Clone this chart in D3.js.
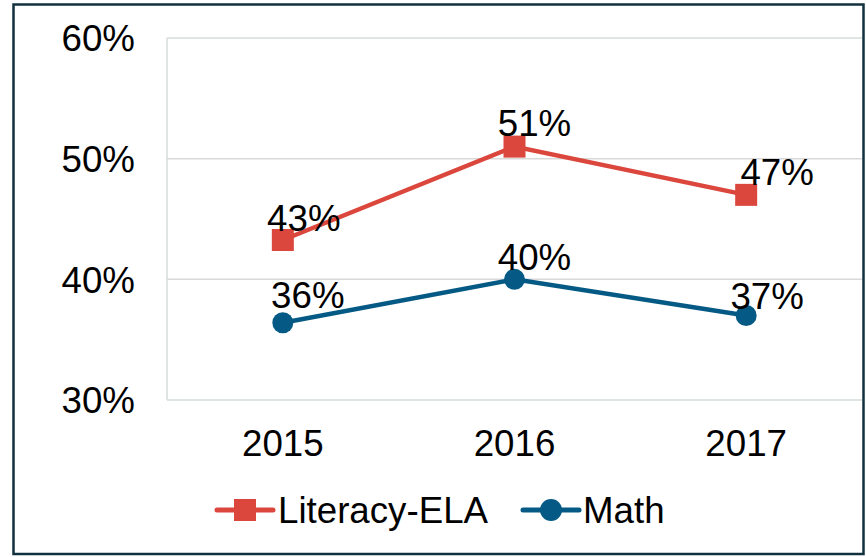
<!DOCTYPE html>
<html>
<head>
<meta charset="utf-8">
<script src="https://cdn.jsdelivr.net/npm/d3@7"></script>
<style>
  html, body { margin: 0; padding: 0; background: #fff; }
  svg { display: block; }
  text { font-family: "Liberation Sans", Arial, sans-serif; fill: #000; }
</style>
</head>
<body>
<svg id="chart" width="866" height="557"></svg>
<script>
const years = ["2015", "2016", "2017"];
const elaValues = [0.4326, 0.510, 0.470];
const mathValues = [0.364, 0.400, 0.370];
const yTicks = [0.30, 0.40, 0.50, 0.60];
const seriesNames = ["Literacy-ELA", "Math"];
// per-label nudges (px) to mimic the original label placement
const elaLabelNudge = [[0, 0], [-1, -2], [10, -1]];
const mathLabelNudge = [[4, -6], [-1, 0], [0, 2]];

const W = 866, H = 557;
const FS = 36.7;
const plot = { left: 167, right: 862, top: 38, bottom: 400 };
const svg = d3.select("#chart");

// outer frame
svg.append("rect").attr("x", 13.5).attr("y", 4.5).attr("width", 850).attr("height", 549.5)
  .attr("fill", "#fff").attr("stroke", "#12313f").attr("stroke-width", 2.5);

const x = d3.scaleBand().domain(years).range([plot.left, plot.right]);
const y = d3.scaleLinear().domain([0.30, 0.60]).range([plot.bottom, plot.top]);
const fmt = d3.format(".0%");

// gridlines
svg.append("g").selectAll("line").data(yTicks).join("line")
  .attr("x1", plot.left).attr("x2", plot.right)
  .attr("y1", d => y(d)).attr("y2", d => y(d))
  .attr("stroke", (d, i) => (i === 0 || i === yTicks.length - 1) ? "#d4ddd6" : "#d9d9d9")
  .attr("stroke-width", 1.5);
svg.append("line").attr("x1", plot.left).attr("x2", plot.left)
  .attr("y1", plot.top).attr("y2", plot.bottom)
  .attr("stroke", "#d4ddd6").attr("stroke-width", 1.5);

// y axis labels
const yAxis = d3.axisLeft(y).tickValues(yTicks).tickFormat(fmt).tickSize(0).tickPadding(32);
const gy = svg.append("g").attr("transform", `translate(${plot.left},0)`).call(yAxis);
gy.select(".domain").remove();
gy.selectAll("text").attr("font-size", FS).attr("font-family", "Liberation Sans, Arial, sans-serif")
  .attr("fill", "#000").attr("dy", "0.35em");

// x axis labels
const xAxis = d3.axisBottom(x).tickSize(0).tickPadding(30);
const gx = svg.append("g").attr("transform", `translate(0,${plot.bottom})`).call(xAxis);
gx.select(".domain").remove();
gx.selectAll("text").attr("font-size", FS).attr("font-family", "Liberation Sans, Arial, sans-serif")
  .attr("fill", "#000");

const cx = d => x(d) + x.bandwidth() / 2;
const series = [
  { name: seriesNames[0], values: elaValues, color: "#db473d", shape: "square", nudge: elaLabelNudge },
  { name: seriesNames[1], values: mathValues, color: "#045a84", shape: "circle", nudge: mathLabelNudge }
];

const line = d3.line().x((d, i) => cx(years[i])).y(d => y(d));

series.forEach(s => {
  const g = svg.append("g");
  g.append("path").datum(s.values).attr("d", line)
    .attr("fill", "none").attr("stroke", s.color).attr("stroke-width", 4.5);
  if (s.shape === "square") {
    g.selectAll("rect").data(s.values).join("rect")
      .attr("x", (d, i) => cx(years[i]) - 11).attr("y", d => y(d) - 11)
      .attr("width", 22).attr("height", 22).attr("fill", s.color);
  } else {
    g.selectAll("circle").data(s.values).join("circle")
      .attr("cx", (d, i) => cx(years[i])).attr("cy", d => y(d)).attr("r", 10.5)
      .attr("fill", s.color);
  }
  g.selectAll("text").data(s.values).join("text")
    .attr("x", (d, i) => cx(years[i]) + 21 + s.nudge[i][0])
    .attr("y", (d, i) => y(d) - 9 + s.nudge[i][1])
    .attr("text-anchor", "middle").attr("font-size", FS)
    .text(d => fmt(d));
});

// legend
const legend = svg.append("g");
const legendItems = [
  { x: 217, textX: 278 },
  { x: 523, textX: 583 }
];
series.forEach((s, i) => {
  const lx = legendItems[i].x, ly = 510;
  legend.append("line").attr("x1", lx).attr("x2", lx + 56).attr("y1", ly).attr("y2", ly)
    .attr("stroke", s.color).attr("stroke-width", 5).attr("stroke-linecap", "round");
  if (s.shape === "square") {
    legend.append("rect").attr("x", lx + 28 - 11).attr("y", ly - 11).attr("width", 22).attr("height", 22)
      .attr("fill", s.color);
  } else {
    legend.append("circle").attr("cx", lx + 28).attr("cy", ly).attr("r", 11).attr("fill", s.color);
  }
  legend.append("text").attr("x", legendItems[i].textX).attr("y", ly + 12.5)
    .attr("font-size", FS).text(s.name);
});
</script>
</body>
</html>
